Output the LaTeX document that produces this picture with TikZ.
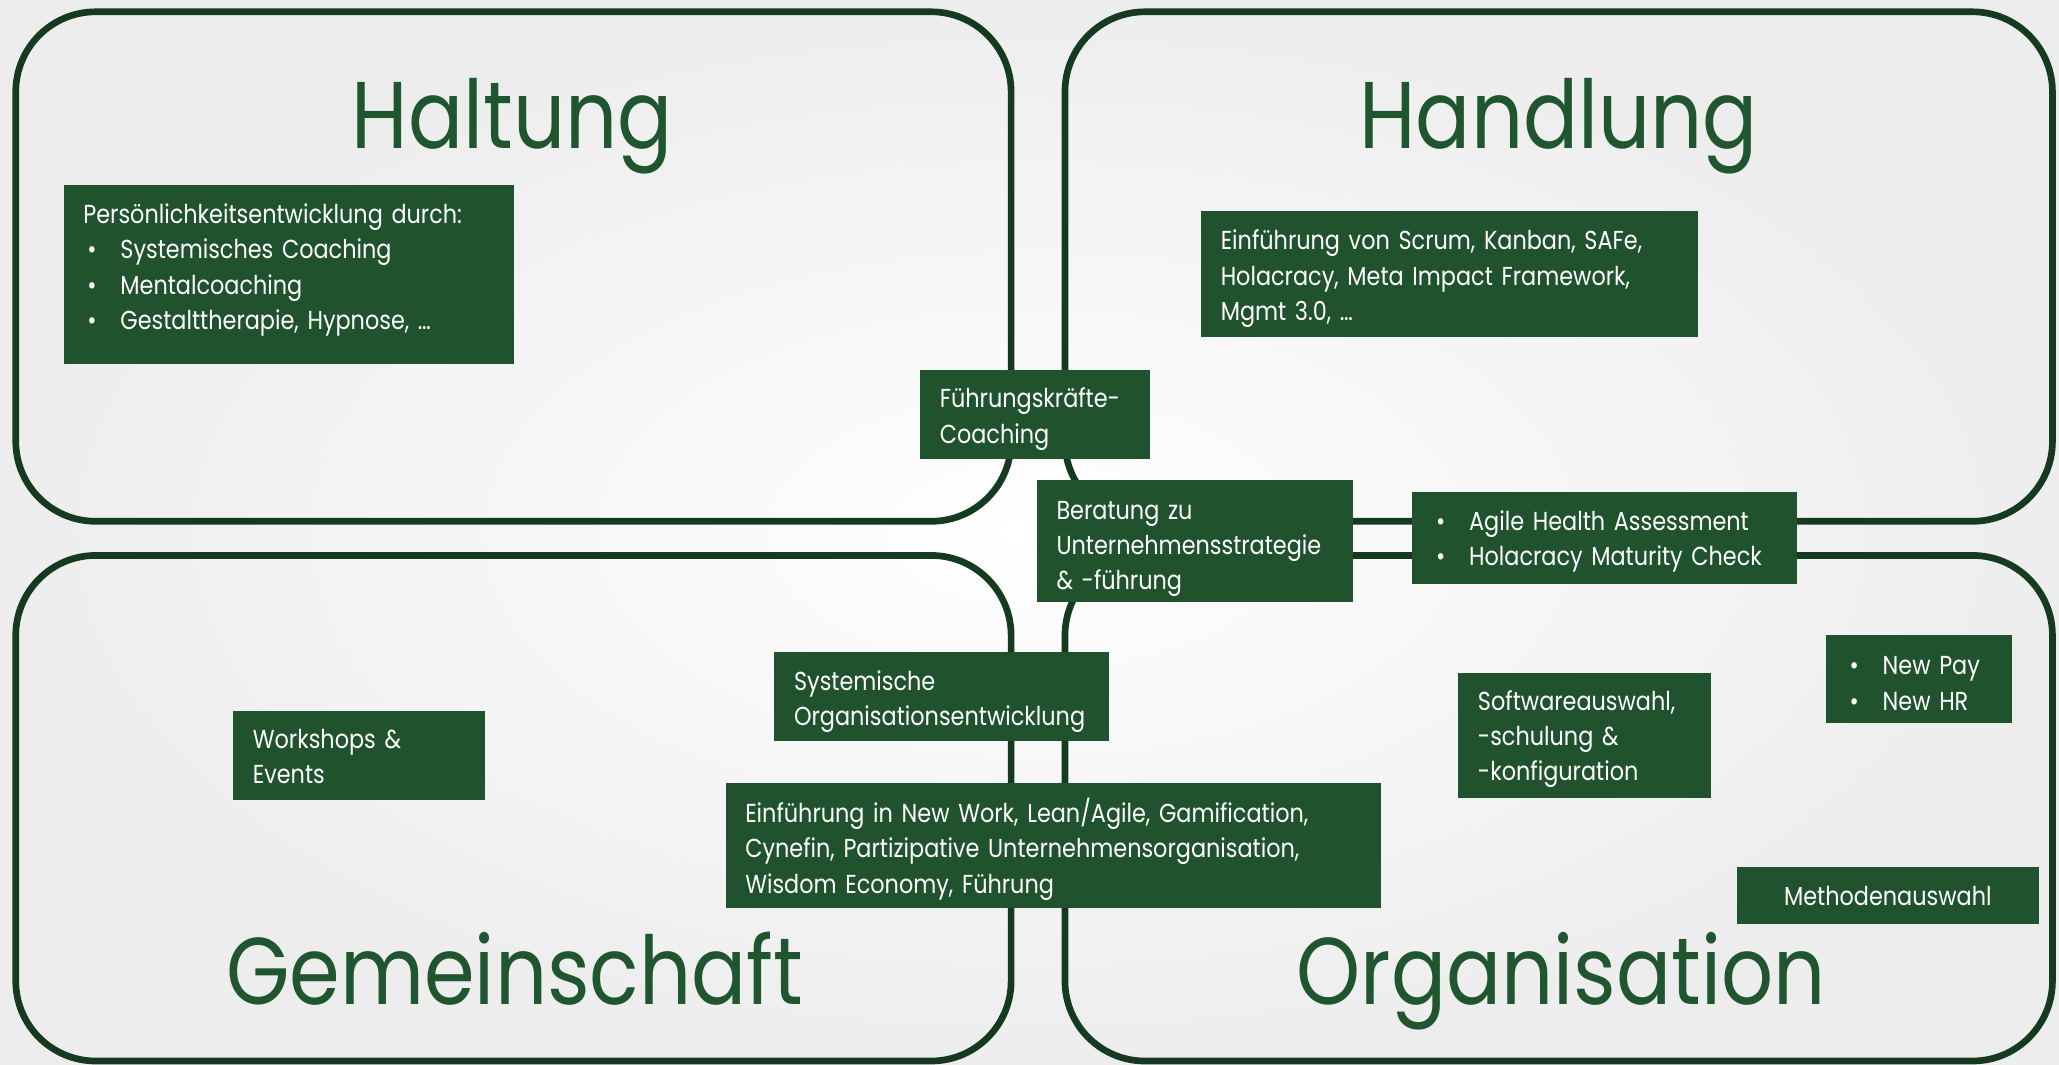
\documentclass[tikz,border=0pt]{standalone}
\usepackage{fontspec}
\setmainfont{Poppins}[FakeStretch=0.86]
\setlength{\parindent}{0pt}
\definecolor{boxgreen}{RGB}{32,82,46}
\definecolor{linegreen}{RGB}{22,58,31}
\definecolor{titlegreen}{RGB}{31,85,47}
\newcommand{\itm}{\makebox[0.37cm][l]{\hspace{0.04cm}•}}
\newcommand{\lines}[2][-0.042cm]{\raisebox{#1}[\height][\depth]{\begin{tabular}{@{}l@{}}#2\end{tabular}}}
\tikzset{
  quadrant/.style={draw=linegreen, line width=1.9pt, rounded corners=0.8cm},
  title/.style={text=titlegreen, font=\fontsize{27}{30}\selectfont, anchor=base, inner sep=0pt},
  gbox/.style={fill=boxgreen, text=white, anchor=north west, align=left,
    inner xsep=0.197cm, inner ysep=0pt, font=\fontsize{7.4}{10.05}\selectfont},
  boxsize/.style n args={3}{minimum width=#1cm, minimum height=#2cm, text width=#3cm},
}
\begin{document}
\begin{tikzpicture}[x=0.013131cm, y=-0.013131cm]
  % background
  \fill[inner color=white, outer color=black!7] (0,0) rectangle (1568,811);
  \useasboundingbox (0,0) rectangle (1568,811);
  % four fields
  \draw[quadrant] (12,9) rectangle (770,397);
  \draw[quadrant] (811,9) rectangle (1563,397);
  \draw[quadrant] (12,423) rectangle (770,808);
  \draw[quadrant] (811,423) rectangle (1563,808);
  \node[title] (haltung) at (390,113) {Haltung};
  \node[title] (handlung) at (1187,113) {Handlung};
  \node[title] (gemeinschaft) at (392,765) {Gemeinschaft};
  \node[title] (organisation) at (1189,765) {Organisation};
  % offers
  \node[gbox, boxsize={4.504}{1.799}{4.11}] (persoenlich) at (48,140)
    {\lines[0.05cm]{Persönlichkeitsentwicklung durch:\\ \itm Systemisches Coaching\\ \itm Mentalcoaching\\ \itm Gestalttherapie, Hypnose, …}};
  \node[gbox, boxsize={4.977}{1.261}{4.58}] (scrum) at (914,160)
    {\lines{Einführung von Scrum, Kanban, SAFe,\\ Holacracy, Meta Impact Framework,\\ Mgmt 3.0, …}};
  \node[gbox, boxsize={2.298}{0.893}{1.90}] (fkcoaching) at (700,281)
    {\lines{Führungskräfte-\\ Coaching}};
  \node[gbox, boxsize={3.165}{1.221}{2.77}] (beratung) at (789,365)
    {\lines[-0.065cm]{Beratung zu\\ Unternehmensstrategie\\ \& -führung}};
  \node[gbox, boxsize={3.847}{0.919}{3.45}] (assessment) at (1075,374)
    {\lines[-0.03cm]{\itm Agile Health Assessment\\ \itm Holacracy Maturity Check}};
  \node[gbox, boxsize={3.348}{0.893}{2.95}] (sysorg) at (589,496)
    {\lines{Systemische\\ Organisationsentwicklung}};
  \node[gbox, boxsize={2.521}{0.893}{2.13}] (workshops) at (177,541)
    {\lines[-0.03cm]{Workshops \&\\ Events}};
  \node[gbox, boxsize={6.552}{1.247}{6.16}] (newwork) at (552,596)
    {\lines[-0.052cm]{Einführung in New Work, Lean/Agile, Gamification,\\ Cynefin, Partizipative Unternehmensorganisation,\\ Wisdom Economy, Führung}};
  \node[gbox, boxsize={2.521}{1.247}{2.13}] (software) at (1110,512)
    {\lines[-0.03cm]{Softwareauswahl,\\ -schulung \&\\ -konfiguration}};
  \node[gbox, boxsize={1.865}{0.880}{1.47}] (newpay) at (1390,483)
    {\lines[-0.065cm]{\itm New Pay\\ \itm New HR}};
  \node[gbox, boxsize={3.020}{0.565}{2.63}, align=center] (methoden) at (1322,660)
    {Methodenauswahl};
\end{tikzpicture}
\end{document}
